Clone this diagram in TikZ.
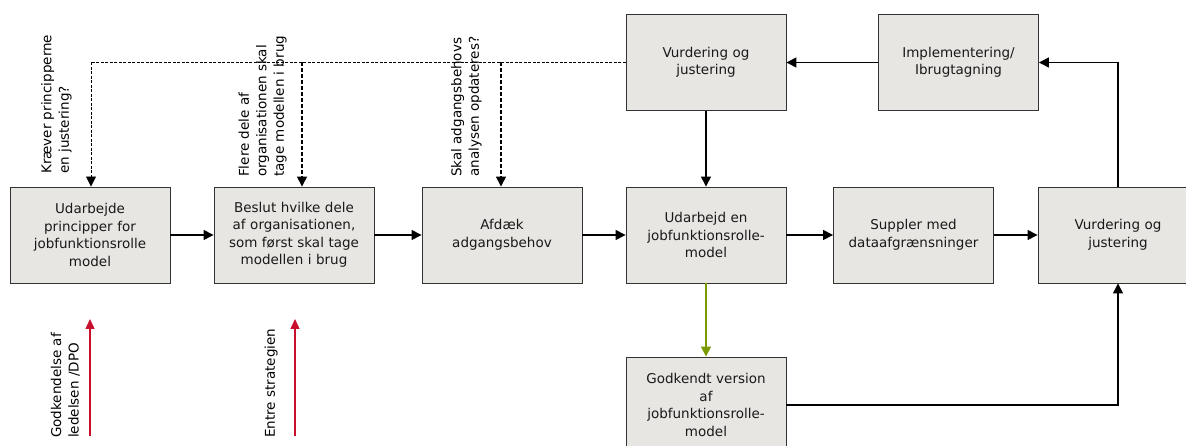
\documentclass[tikz,border=0pt]{standalone}
\usepackage{fontspec}
\setmainfont{DejaVu Sans}
\usetikzlibrary{arrows.meta}
\definecolor{boxfill}{HTML}{E8E6E3}
\definecolor{boxline}{HTML}{333333}
\definecolor{approvered}{HTML}{C8102E}
\definecolor{okgreen}{HTML}{7A9A01}
\tikzset{
  stepbox/.style={draw=boxline, line width=0.9pt, fill=boxfill, minimum width=160pt,
    minimum height=96pt, align=center, inner sep=2pt, text width=150pt,
    text=black!90, font=\fontsize{13.5}{17.5}\selectfont},
  tip/.tip={Triangle[length=10pt,width=10pt]},
  flow/.style={line width=1.4pt, draw=black, -tip},
  feedback/.style={line width=0.8pt, dash pattern=on 3pt off 1.5pt},
  drop/.style={line width=1.4pt, dash pattern=on 4pt off 2pt, -tip},
  sidenote/.style={rotate=90, anchor=south west, align=left, inner sep=0pt,
    font=\fontsize{13.5}{17.5}\selectfont},
  upmark/.style={line width=1.4pt, draw=approvered, -{Triangle[length=10pt,width=9pt,fill=approvered]}}
}
\begin{document}
\begin{tikzpicture}[x=1pt,y=-1pt]
\useasboundingbox (0,0) rectangle (1186,446);

% main process row
\node[stepbox] (b1) at (90,235) {Udarbejde\\principper for\\jobfunktionsrolle\\model};
\node[stepbox] (b2) at (294,235) {Beslut hvilke dele\\af organisationen,\\som først skal tage\\modellen i brug};
\node[stepbox] (b3) at (502,235) {Afdæk\\adgangsbehov\\[17pt]};
\node[stepbox] (b4) at (706,235) {Udarbejd en\\jobfunktionsrolle-\\model\\[8pt]};
\node[stepbox] (b5) at (913.5,235) {Suppler med\\dataafgrænsninger\\[17pt]};
\node[stepbox] (b6) at (1118,235) {Vurdering og\\justering\\[17pt]};

% loop back at the top
\node[stepbox] (tv) at (706,62.5) {Vurdering og\\justering};
\node[stepbox] (impl) at (958.5,62.5) {Implementering/\\Ibrugtagning};

% approved version below
\node[stepbox] (god) at (706,405) {Godkendt version\\af\\jobfunktionsrolle-\\model};

% forward flow
\draw[flow] (b1) -- (b2);
\draw[flow] (b2) -- (b3);
\draw[flow] (b3) -- (b4);
\draw[flow] (b4) -- (b5);
\draw[flow] (b5) -- (b6);
\draw[flow] (tv) -- (b4);
\draw[flow] (impl) -- (tv);
\draw[flow] (b6.north) |- (impl.east);
\draw[flow] (god.east) -| (b6.south);
\draw[flow, draw=okgreen, -{Triangle[length=10pt,width=10pt,fill=okgreen]}] (b4) -- (god);

% feedback questions
\coordinate (fb1) at ([xshift=1pt]b1.north |- tv.west);
\coordinate (fb2) at ([xshift=8pt]b2.north |- tv.west);
\coordinate (fb3) at ([xshift=-1pt]b3.north |- tv.west);
\draw[feedback] (tv.west) -- (fb1);
\draw[feedback, -tip] (fb1) -- ([xshift=1pt]b1.north);
\draw[drop] (fb2) -- ([xshift=8pt]b2.north);
\draw[drop] (fb3) -- ([xshift=-1pt]b3.north);

\node[sidenote] (q1) at (72,174) {Kræver principperne\\en justering?};
\node[sidenote] (q2) at (287,177) {Flere dele af\\organisationen skal\\tage modellen i brug};
\node[sidenote] (q3) at (482,177) {Skal adgangsbehovs\\analysen opdateres?};

% approvals
\coordinate (r1s) at (90,436);
\coordinate (r1e) at (90,319);
\coordinate (r2s) at (295,436);
\coordinate (r2e) at (295,319);
\draw[upmark] (r1s) -- (r1e);
\draw[upmark] (r2s) -- (r2e);
\node[sidenote] (a1) at (80,438) {Godkendelse af\\ledelsen /DPO};
\node[sidenote] (a2) at (278,438) {Entre strategien};
\end{tikzpicture}
\end{document}
